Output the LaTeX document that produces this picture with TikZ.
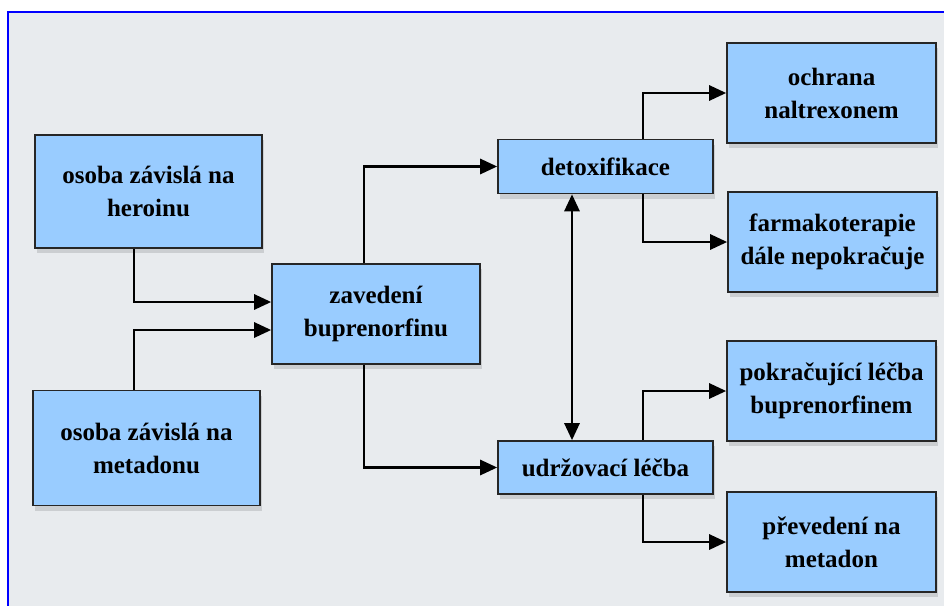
\documentclass[tikz,border=0pt]{standalone}
\usepackage{fontspec}
\setmainfont{Liberation Serif}
\usetikzlibrary{arrows.meta,shadows,positioning}
\definecolor{bgc}{RGB}{232,235,238}
\definecolor{boxc}{RGB}{153,204,255}
\definecolor{framec}{RGB}{0,0,255}
\tikzset{
  box/.style={draw=black!85, line width=1.6pt, fill=boxc, align=center,
    font=\bfseries\fontsize{25}{33}\selectfont, inner sep=2pt,
    drop shadow={shadow xshift=2pt, shadow yshift=-5pt, opacity=0.12, fill=black}},
  arr/.style={line width=2.8pt, -{Triangle[length=17pt,width=15pt]}},
  darr/.style={line width=2.8pt, {Triangle[length=17pt,width=15pt]}-{Triangle[length=17pt,width=15pt]}}
}
\begin{document}
\begin{tikzpicture}[x=1pt,y=-1pt]
\useasboundingbox (0,0) rectangle (944,605);
\fill[white] (0,0) rectangle (944,605);
\filldraw[fill=bgc, draw=framec, line width=1.2pt] (8,12) rectangle (960,620);
\node[box, minimum width=227pt, minimum height=113pt] (heroin) at (148.5,191.5) {osoba závislá na\\heroinu};
\node[box, minimum width=227pt, minimum height=115pt] (metadon) at (146.5,448) {osoba závislá na\\metadonu};
\node[box, minimum width=208pt, minimum height=100pt] (zaved) at (376,314) {zavedení\\buprenorfinu};
\node[box, minimum width=215pt, minimum height=54pt] (detox) at (605.5,166.5) {detoxifikace};
\node[box, minimum width=215pt, minimum height=53pt] (udrz) at (605.5,467.5) {udržovací léčba};
\node[box, minimum width=209pt, minimum height=100pt] (ochrana) at (831.5,93) {ochrana\\naltrexonem};
\node[box, minimum width=209pt, minimum height=100pt] (farmako) at (832.5,242) {farmakoterapie\\dále nepokračuje};
\node[box, minimum width=209pt, minimum height=100pt] (pokr) at (831.5,391) {pokračující léčba\\buprenorfinem};
\node[box, minimum width=209pt, minimum height=100pt] (preved) at (831.5,542) {převedení na\\metadon};

\draw[arr] ([xshift=-14.5pt]heroin.south) |- ([yshift=12pt]zaved.west);
\draw[arr] ([xshift=-12.5pt]metadon.north) |- ([yshift=-16pt]zaved.west);
\draw[arr] ([xshift=-12pt]zaved.north) |- (detox.west);
\draw[arr] ([xshift=-12pt]zaved.south) |- (udrz.west);
\draw[darr] ([xshift=-33.5pt]detox.south) -- ([xshift=-33.5pt]udrz.north);
\draw[arr] ([xshift=37.5pt]detox.north) |- (ochrana.west);
\draw[arr] ([xshift=37.5pt]detox.south) |- (farmako.west);
\draw[arr] ([xshift=37.5pt]udrz.north) |- (pokr.west);
\draw[arr] ([xshift=37.5pt]udrz.south) |- (preved.west);
\end{tikzpicture}
\end{document}
